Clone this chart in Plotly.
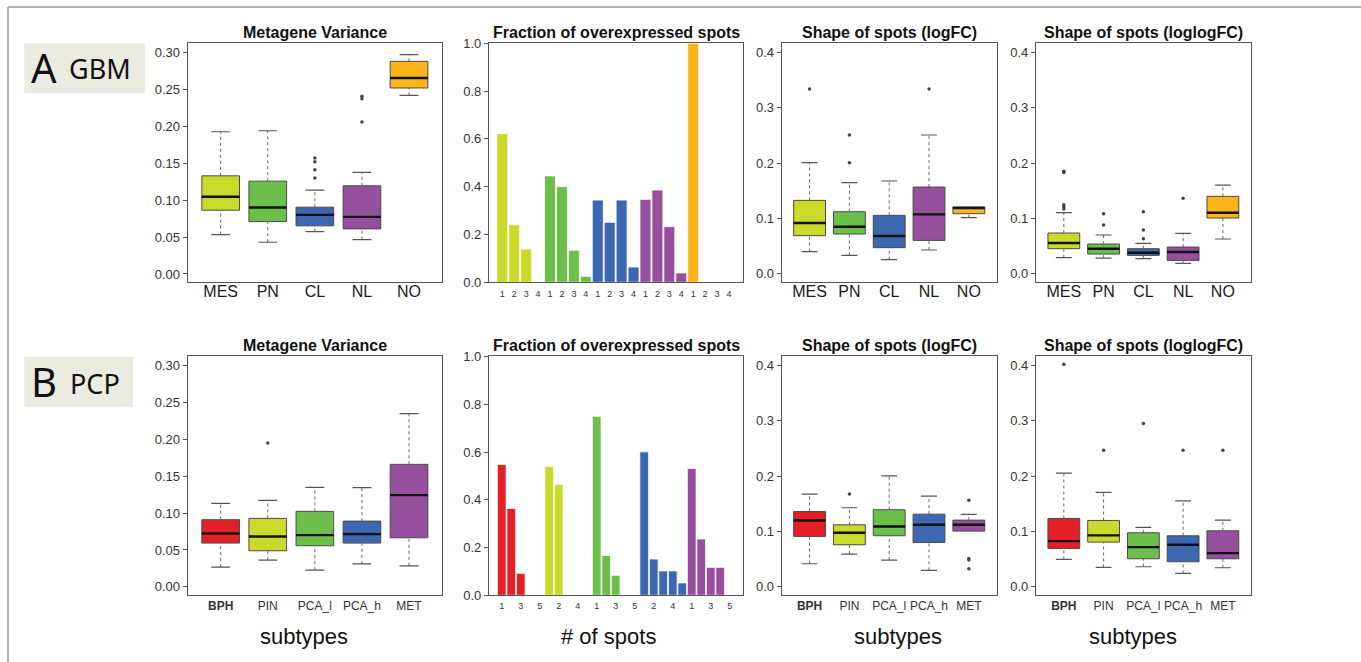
import plotly.graph_objects as go

W, H = 1361, 662

gbm_types = ["MES", "PN", "CL", "NL", "NO"]
pcp_types = ["BPH", "PIN", "PCA_l", "PCA_h", "MET"]
gbm_colors = ["#C9DA2A", "#6DBF4B", "#3D67B1", "#954F9D", "#FBB419"]
pcp_colors = ["#E41F26", "#C9DA2A", "#6DBF4B", "#3D67B1", "#954F9D"]

# Box summaries per subtype: lower whisker, Q1, median, Q3, upper whisker, outliers
gbm_var = dict(
    lower=[0.0533, 0.0429, 0.0574, 0.0465, 0.2417],
    q1=[0.0863, 0.0709, 0.0651, 0.0610, 0.2517],
    median=[0.1044, 0.0899, 0.0800, 0.0773, 0.2652],
    q3=[0.1328, 0.1256, 0.0904, 0.1193, 0.2878],
    upper=[0.1925, 0.1938, 0.1134, 0.1374, 0.2969],
    outliers=[[], [], [0.157, 0.152, 0.141, 0.130], [0.2404, 0.2372, 0.2056], []],
)
gbm_logfc = dict(
    lower=[0.0398, 0.0331, 0.0253, 0.0428, 0.1012],
    q1=[0.0687, 0.0717, 0.0470, 0.0602, 0.1084],
    median=[0.0916, 0.0849, 0.0680, 0.1072, 0.1187],
    q3=[0.1325, 0.1120, 0.1054, 0.1566, 0.1205],
    upper=[0.2006, 0.1645, 0.1675, 0.2506, 0.1205],
    outliers=[[0.3337], [0.2506, 0.2006], [], [0.3337], []],
)
gbm_loglogfc = dict(
    lower=[0.0289, 0.0283, 0.0271, 0.0187, 0.0627],
    q1=[0.0452, 0.0355, 0.0331, 0.0241, 0.1006],
    median=[0.0554, 0.0452, 0.0380, 0.0392, 0.1102],
    q3=[0.0735, 0.0536, 0.0452, 0.0482, 0.1398],
    upper=[0.1102, 0.0699, 0.0548, 0.0729, 0.1602],
    outliers=[[0.185, 0.183, 0.1247, 0.121, 0.117], [0.1084, 0.088],
              [0.112, 0.0789, 0.0633], [0.1361], []],
)
pcp_var = dict(
    lower=[0.0267, 0.0362, 0.0226, 0.0312, 0.0285],
    q1=[0.0593, 0.0489, 0.0557, 0.0593, 0.0665],
    median=[0.0724, 0.0683, 0.0701, 0.0715, 0.1244],
    q3=[0.0910, 0.0928, 0.1023, 0.0891, 0.1661],
    upper=[0.1131, 0.1172, 0.1348, 0.1344, 0.2348],
    outliers=[[], [0.195], [], [], []],
)
pcp_logfc = dict(
    lower=[0.0416, 0.0590, 0.0482, 0.0295, 0.1006],
    q1=[0.0910, 0.0759, 0.0922, 0.0801, 0.1006],
    median=[0.1199, 0.0976, 0.1090, 0.1120, 0.1120],
    q3=[0.1361, 0.1120, 0.1392, 0.1313, 0.1205],
    upper=[0.1675, 0.1428, 0.2006, 0.1639, 0.1307],
    outliers=[[], [0.1675], [], [], [0.1566, 0.0512, 0.0482, 0.0325]],
)
pcp_loglogfc = dict(
    lower=[0.0494, 0.0349, 0.0361, 0.0241, 0.0343],
    q1=[0.0693, 0.0807, 0.0506, 0.0452, 0.0506],
    median=[0.0825, 0.0928, 0.0717, 0.0759, 0.0608],
    q3=[0.1235, 0.1199, 0.0976, 0.0922, 0.1012],
    upper=[0.2054, 0.1705, 0.1072, 0.1554, 0.1205],
    outliers=[[0.4024], [0.247], [0.2952], [0.247], [0.247]],
)

# Fraction of samples with 1..n overexpressed spots, per subtype
gbm_spots = ["1", "2", "3", "4"]
gbm_frac = [
    [0.622, 0.241, 0.139, 0.0],
    [0.445, 0.400, 0.134, 0.025],
    [0.344, 0.251, 0.344, 0.064],
    [0.347, 0.386, 0.233, 0.039],
    [1.0, 0.0, 0.0, 0.0],
]
pcp_spots = ["1", "2", "3", "4", "5"]
pcp_frac = [
    [0.548, 0.364, 0.092, 0.0, 0.0],
    [0.540, 0.464, 0.0, 0.0, 0.0],
    [0.750, 0.167, 0.084, 0.0, 0.0],
    [0.601, 0.152, 0.102, 0.102, 0.052],
    [0.531, 0.236, 0.117, 0.117, 0.0],
]

var_ticks = [0.0, 0.05, 0.10, 0.15, 0.20, 0.25, 0.30]
shape_ticks = [0.0, 0.1, 0.2, 0.3, 0.4]
frac_ticks = [0.0, 0.2, 0.4, 0.6, 0.8, 1.0]

# ---------------------------------------------------------------- layout grid
col_px = [(187.7, 442.0), (489.0, 743.3), (781.7, 996.7), (1036.0, 1250.7)]
row_px = [(42.7, 282.3), (356.0, 595.3)]


def fx(v):
    return v / W


def fy(v):
    return 1 - v / H


FONT = "Liberation Sans, Arial, sans-serif"
AXIS_COL = "#555555"
TICK_FONT = dict(family=FONT, size=13, color="#333333")

fig = go.Figure()
layout = dict(
    width=W, height=H,
    margin=dict(l=0, r=0, t=0, b=0, pad=0, autoexpand=False),
    paper_bgcolor="white", plot_bgcolor="white",
    showlegend=False, boxmode="overlay", barmode="overlay",
    font=dict(family=FONT),
)


def axis_names(p):
    s = "" if p == 1 else str(p)
    return "x" + s, "y" + s, "xaxis" + s, "yaxis" + s


def set_axes(p, r, c, xrange, yrange, yticks, yfmt, xtickvals, xticktext, xfont, standoff):
    xr, yr, xk, yk = axis_names(p)
    x0, x1 = col_px[c]
    y0, y1 = row_px[r]
    layout[xk] = dict(
        domain=[fx(x0), fx(x1)], anchor=yr, range=xrange,
        showline=True, mirror=True, linecolor=AXIS_COL, linewidth=1.2,
        showgrid=False, zeroline=False, ticks="",
        tickmode="array", tickvals=xtickvals, ticktext=xticktext,
        tickfont=xfont, ticklabelstandoff=standoff, fixedrange=True,
    )
    layout[yk] = dict(
        domain=[fy(y1), fy(y0)], anchor=xr, range=yrange,
        showline=True, mirror=True, linecolor=AXIS_COL, linewidth=1.2,
        showgrid=False, zeroline=False, ticks="outside", ticklen=4,
        tickcolor=AXIS_COL, tickwidth=1,
        tickmode="array", tickvals=yticks,
        ticktext=[format(t, yfmt) for t in yticks],
        tickfont=TICK_FONT, fixedrange=True,
    )
    return xr, yr


def box_panel(p, r, c, stats, colors, labels, yrange, yticks, yfmt, xfont, standoff):
    pos = list(range(1, len(labels) + 1))
    xr, yr = set_axes(p, r, c, [0.3, 5.7], yrange, yticks, yfmt, pos, labels, xfont, standoff)
    half, cap = 0.4, 0.2
    wx, wy, cx, cy, mx, my, ox, oy = [], [], [], [], [], [], [], []
    for i, x in enumerate(pos):
        lo, q1, md, q3, hi = (stats[k][i] for k in ("lower", "q1", "median", "q3", "upper"))
        wx += [x, x, None, x, x, None]
        wy += [lo, q1, None, q3, hi, None]
        if lo < q1:
            cx += [x - cap, x + cap, None]
            cy += [lo, lo, None]
        if hi > q3:
            cx += [x - cap, x + cap, None]
            cy += [hi, hi, None]
        mx += [x - half, x + half, None]
        my += [md, md, None]
        for o in stats["outliers"][i]:
            ox.append(x)
            oy.append(o)
    # dotted whiskers
    fig.add_trace(go.Scatter(x=wx, y=wy, xaxis=xr, yaxis=yr, mode="lines",
                             line=dict(color="#666666", width=1, dash="dot"),
                             hoverinfo="skip"))
    # whisker caps
    fig.add_trace(go.Scatter(x=cx, y=cy, xaxis=xr, yaxis=yr, mode="lines",
                             line=dict(color="#555555", width=1.2),
                             hoverinfo="skip"))
    for i, x in enumerate(pos):
        fig.add_trace(go.Box(
            x=[x], q1=[stats["q1"][i]], median=[stats["median"][i]],
            q3=[stats["q3"][i]], lowerfence=[stats["q1"][i]],
            upperfence=[stats["q3"][i]], width=0.8, whiskerwidth=0,
            fillcolor=colors[i], line=dict(color="#4a4a4a", width=1),
            boxpoints=False, xaxis=xr, yaxis=yr, name=labels[i],
        ))
    # median bars
    fig.add_trace(go.Scatter(x=mx, y=my, xaxis=xr, yaxis=yr, mode="lines",
                             line=dict(color="#111111", width=2.4),
                             hoverinfo="skip"))
    # outliers
    fig.add_trace(go.Scatter(x=ox, y=oy, xaxis=xr, yaxis=yr, mode="markers",
                             marker=dict(color="#444444", size=3.5),
                             hoverinfo="skip"))


def bar_panel(p, r, c, frac, colors, spot_labels, step, xrange, standoff):
    n = len(spot_labels)
    tv, tt = [], []
    for g in range(len(frac)):
        for k in range(n):
            idx = g * n + k
            if idx % step == 0:
                tv.append(idx)
                tt.append(spot_labels[k])
    xr, yr = set_axes(p, r, c, xrange, [0, 1.0025], frac_ticks, ".1f", tv, tt,
                      dict(family=FONT, size=9, color="#333333"), standoff)
    for g, vals in enumerate(frac):
        fig.add_trace(go.Bar(
            x=[g * n + k for k in range(n)], y=vals, width=0.92,
            marker=dict(color=colors[g], line=dict(color="white", width=0.8)),
            xaxis=xr, yaxis=yr, hoverinfo="skip",
        ))


gbm_font = dict(family=FONT, size=16, color="#1a1a1a")
pcp_font = dict(family=FONT, size=12, color="#333333")
pcp_labels = ["<b>BPH</b>"] + pcp_types[1:]

box_panel(1, 0, 0, gbm_var, gbm_colors, gbm_types, [-0.0113, 0.313], var_ticks, ".2f", gbm_font, -6)
bar_panel(2, 0, 1, gbm_frac, gbm_colors, gbm_spots, 1, [-1.115, 20.2], 3)
box_panel(3, 0, 2, gbm_logfc, gbm_colors, gbm_types, [-0.0155, 0.4173], shape_ticks, ".1f", gbm_font, -6)
box_panel(4, 0, 3, gbm_loglogfc, gbm_colors, gbm_types, [-0.0155, 0.4173], shape_ticks, ".1f", gbm_font, -6)

box_panel(5, 1, 0, pcp_var, pcp_colors, pcp_labels, [-0.0115, 0.313], var_ticks, ".2f", pcp_font, -1)
bar_panel(6, 1, 1, pcp_frac, pcp_colors, pcp_spots, 2, [-1.34, 25.43], 2)
box_panel(7, 1, 2, pcp_logfc, pcp_colors, pcp_labels, [-0.0155, 0.4173], shape_ticks, ".1f", pcp_font, -1)
box_panel(8, 1, 3, pcp_loglogfc, pcp_colors, pcp_labels, [-0.0155, 0.4173], shape_ticks, ".1f", pcp_font, -1)

# ---------------------------------------------------------------- text
annotations = []
titles = ["Metagene Variance", "Fraction of overexpressed spots",
          "Shape of spots (logFC)", "Shape of spots (loglogFC)"]
for r, ty in enumerate([32, 345]):
    for c, t in enumerate(titles):
        x0, x1 = col_px[c]
        annotations.append(dict(
            text="<b>%s</b>" % t, x=fx((x0 + x1) / 2), y=fy(ty),
            xref="paper", yref="paper", showarrow=False,
            xanchor="center", yanchor="middle",
            font=dict(family=FONT, size=16, color="#111111"),
        ))
for xc, t in [(304.3, "subtypes"), (608.7, "# of spots"),
              (898.3, "subtypes"), (1133.3, "subtypes")]:
    annotations.append(dict(
        text=t, x=fx(xc), y=fy(636), xref="paper", yref="paper",
        showarrow=False, xanchor="center", yanchor="middle",
        font=dict(family=FONT, size=22, color="#111111"),
    ))

LABEL_FONT = "Noto Sans, Open Sans, sans-serif"
for letter, name, lx, nx, cy in [("A", "GBM", 44, 100, 67), ("B", "PCP", 44, 94.7, 381)]:
    annotations.append(dict(
        text=letter, x=fx(lx), y=fy(cy), xref="paper", yref="paper",
        showarrow=False, xanchor="center", yanchor="middle",
        font=dict(family=LABEL_FONT, size=40, color="#111111"),
    ))
    annotations.append(dict(
        text=name, x=fx(nx), y=fy(cy + 2), xref="paper", yref="paper",
        showarrow=False, xanchor="center", yanchor="middle",
        font=dict(family=LABEL_FONT, size=27, color="#111111"),
    ))
layout["annotations"] = annotations

shapes = [
    dict(type="rect", xref="paper", yref="paper",
         x0=fx(24.3), x1=fx(145.3), y0=fy(93.3), y1=fy(43.3),
         fillcolor="#ECEBE1", line=dict(width=0), layer="below"),
    dict(type="rect", xref="paper", yref="paper",
         x0=fx(24.3), x1=fx(133), y0=fy(407.3), y1=fy(356.7),
         fillcolor="#ECEBE1", line=dict(width=0), layer="below"),
    # outer frame (top and left edges)
    dict(type="line", xref="paper", yref="paper",
         x0=fx(8), x1=1.0, y0=fy(7), y1=fy(7),
         line=dict(color="#9a9a9a", width=1.5)),
    dict(type="line", xref="paper", yref="paper",
         x0=fx(8), x1=fx(8), y0=fy(7), y1=0.0,
         line=dict(color="#9a9a9a", width=1.5)),
]
layout["shapes"] = shapes

fig.update_layout(**layout)
fig.write_html("out.html")
